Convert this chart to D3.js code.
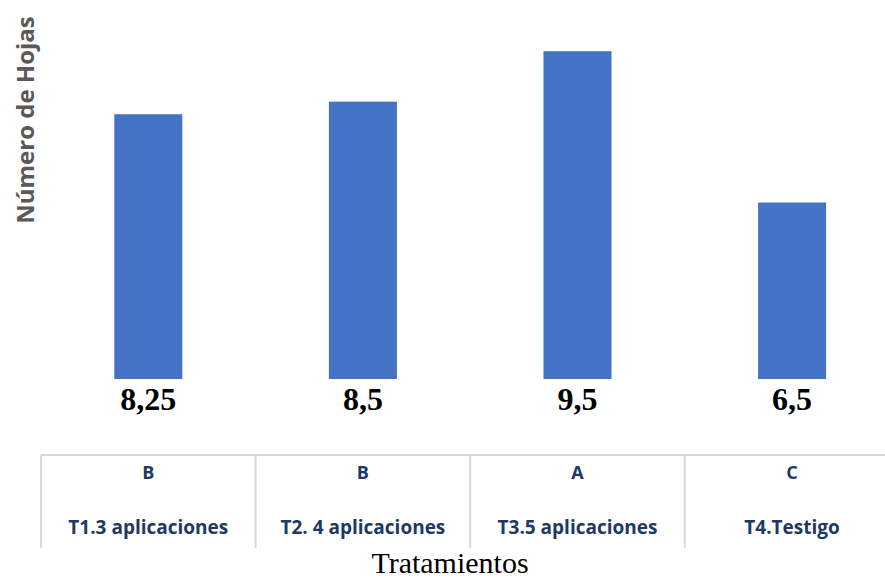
<!DOCTYPE html>
<html>
<head>
<meta charset="utf-8">
<script src="https://cdn.jsdelivr.net/npm/d3@7"></script>
<style>
  body { margin: 0; background: #fff; }
</style>
</head>
<body>
<svg id="chart"></svg>
<script>
// chart data
const categories = ["T1.3 aplicaciones", "T2. 4 aplicaciones", "T3.5 aplicaciones", "T4.Testigo"];
const values = [8.25, 8.5, 9.5, 6.5];
const valueLabels = ["8,25", "8,5", "9,5", "6,5"];
const groupLetters = ["B", "B", "A", "C"];

const width = 885, height = 581;
const baseY = 379;

const svg = d3.select("#chart")
  .attr("width", width)
  .attr("height", height);

// set the ranges
const x = d3.scaleBand().domain(categories).range([41, 41 + 4 * 214.6]).paddingInner(0).paddingOuter(0);
const y = d3.scaleLinear().domain([3, 10]).range([baseY, 26]);
const barW = 68;

// bars
svg.selectAll("rect.bar")
  .data(categories)
  .join("rect")
  .attr("class", "bar")
  .attr("x", d => x(d) + x.bandwidth() / 2 - barW / 2)
  .attr("width", barW)
  .attr("y", (d, i) => y(values[i]))
  .attr("height", (d, i) => y(3) - y(values[i]))
  .attr("fill", "#4472C4");

// value labels under the bars
svg.selectAll("text.val")
  .data(categories)
  .join("text")
  .attr("class", "val")
  .attr("x", d => x(d) + x.bandwidth() / 2)
  .attr("y", 410)
  .attr("text-anchor", "middle")
  .style("font-family", "'Liberation Serif', 'Times New Roman', serif")
  .style("font-weight", "bold")
  .style("font-size", "32px")
  .text((d, i) => valueLabels[i]);

// table-like category axis
const grid = "#d9d9d9";
svg.append("line")
  .attr("x1", 41).attr("x2", width)
  .attr("y1", 455).attr("y2", 455)
  .attr("stroke", grid).attr("stroke-width", 2);

svg.selectAll("line.div")
  .data(categories)
  .join("line")
  .attr("class", "div")
  .attr("x1", d => x(d)).attr("x2", d => x(d))
  .attr("y1", 455).attr("y2", 548)
  .attr("stroke", grid).attr("stroke-width", 2);

svg.selectAll("text.letter")
  .data(categories)
  .join("text")
  .attr("class", "letter")
  .attr("x", d => x(d) + x.bandwidth() / 2)
  .attr("y", 479)
  .attr("text-anchor", "middle")
  .style("font-family", "'Open Sans', 'Noto Sans', sans-serif")
  .style("font-weight", "bold")
  .style("font-size", "18px")
  .attr("fill", "#203864")
  .text((d, i) => groupLetters[i]);

svg.selectAll("text.cat")
  .data(categories)
  .join("text")
  .attr("class", "cat")
  .attr("x", d => x(d) + x.bandwidth() / 2)
  .attr("y", 534)
  .attr("text-anchor", "middle")
  .style("font-family", "'Open Sans', 'Noto Sans', sans-serif")
  .style("font-weight", "bold")
  .style("font-size", "19px")
  .attr("fill", "#203864")
  .text(d => d);

// x axis title
svg.append("text")
  .attr("x", 450)
  .attr("y", 573)
  .attr("text-anchor", "middle")
  .style("font-family", "'Liberation Serif', 'Times New Roman', serif")
  .style("font-size", "30px")
  .text("Tratamientos");

// y axis title
svg.append("text")
  .attr("transform", "translate(34,120) rotate(-90)")
  .attr("text-anchor", "middle")
  .style("font-family", "'Open Sans', 'Noto Sans', sans-serif")
  .style("font-weight", "bold")
  .style("font-size", "24px")
  .attr("fill", "#595959")
  .text("Número de Hojas");
</script>
</body>
</html>
